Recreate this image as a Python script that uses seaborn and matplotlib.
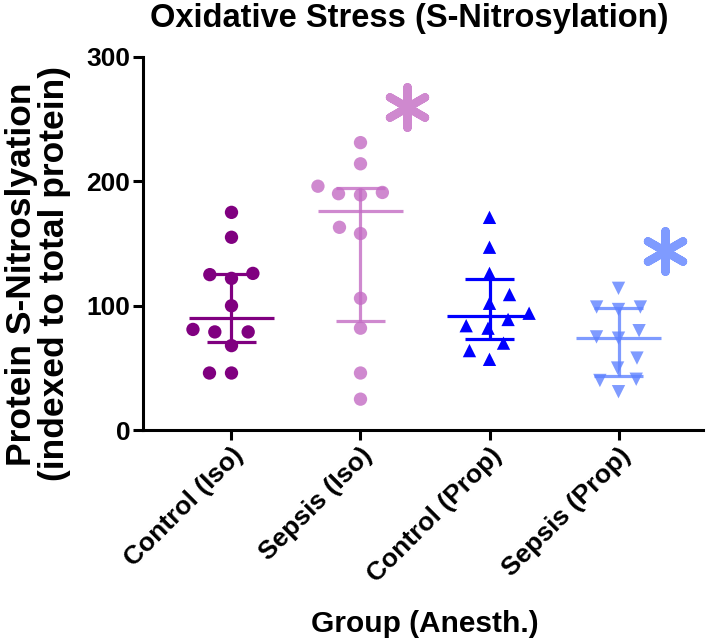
import numpy as np
import pandas as pd
import matplotlib
matplotlib.use("Agg")
import matplotlib.pyplot as plt
import seaborn as sns

# values
groups = ["Control (Iso)", "Sepsis (Iso)", "Control (Prop)", "Sepsis (Prop)"]
control_iso = [175, 155, 125, 126, 122, 100, 81, 79, 79, 68, 46, 46]
sepsis_iso = [231, 214, 196, 190, 189, 191, 158, 163, 106, 82, 46, 25]
control_prop = [171, 147, 126, 109, 102, 94, 89, 84, 82, 70, 64, 57]
sepsis_prop = [114, 99, 97, 99, 80, 75, 74, 58, 50, 41, 40, 31]

# significance stars (group index, y value)
sig_groups = [1, 3]
sig_values = [260, 144]

colors = ["#800080", "#c46cc4", "#0000ff", "#5f82ff"]
markers = ["o", "o", "^", "v"]
alphas = [1.0, 0.8, 1.0, 0.8]

df = pd.DataFrame({
    "group": np.repeat(groups, [len(control_iso), len(sepsis_iso), len(control_prop), len(sepsis_prop)]),
    "value": control_iso + sepsis_iso + control_prop + sepsis_prop,
})

sns.set_theme(style="ticks")
plt.rcParams["font.family"] = ["Liberation Sans", "DejaVu Sans"]
plt.rcParams["font.weight"] = "bold"
for k in ["text.color", "axes.labelcolor", "xtick.color", "ytick.color", "axes.edgecolor"]:
    plt.rcParams[k] = "black"

W, H = 706, 642
fig = plt.figure(figsize=(W / 100, H / 100), dpi=100)
ax = fig.add_axes([143 / W, 1 - 430.3 / H, 560 / W, (430.3 - 56.7) / H])

# invisible wide edge keeps the swarm points spaced apart like the original
for g, c, m, a in zip(groups, colors, markers, alphas):
    sns.swarmplot(data=df[df["group"] == g], x="group", y="value", order=groups,
                  color=c, marker=m, alpha=a, size=9.6, linewidth=5.5,
                  edgecolor="none", ax=ax)

# median with interquartile range
stats = df.groupby("group")["value"].apply(
    lambda v: np.percentile(v, [25, 50, 75], method="weibull"))
for i, (g, c, a) in enumerate(zip(groups, colors, alphas)):
    q1, med, q3 = stats[g]
    ax.hlines(med, i - 0.33, i + 0.33, color=c, lw=2.3, alpha=a, zorder=3)
    ax.hlines([q1, q3], i - 0.19, i + 0.19, color=c, lw=2.3, alpha=a, zorder=3)
    ax.vlines(i, q1, q3, color=c, lw=2.3, alpha=a, zorder=3)

for gi, yv in zip(sig_groups, sig_values):
    ax.scatter(gi + 0.36, yv, marker=(6, 2, 0), s=850, linewidths=6,
               color=colors[gi], alpha=alphas[gi], zorder=4)

ax.set_xlim(-0.686, 3.655)
ax.set_ylim(0, 300)
ax.set_yticks([0, 100, 200, 300])
ax.set_xlabel("")
ax.set_ylabel("")
sns.despine(ax=ax)
for s in ["left", "bottom"]:
    ax.spines[s].set_linewidth(2.2)
    ax.spines[s].set_color("black")
ax.tick_params(axis="both", length=7.2, width=2.2, color="black",
               labelsize=19, labelcolor="black", pad=2)
plt.setp(ax.get_xticklabels(), rotation=45, ha="right", rotation_mode="anchor",
         fontweight="bold", color="black")
plt.setp(ax.get_yticklabels(), fontweight="bold", color="black")

fig.text(409 / W, 1 - 27 / H, "Oxidative Stress (S-Nitrosylation)",
         ha="center", va="baseline", fontsize=23.5, fontweight="bold", color="black")
fig.text(38 / W, 1 - 274 / H, "Protein S-Nitroslyation\n(indexed to total protein)",
         ha="center", va="center", rotation=90, fontsize=25.5, fontweight="bold",
         linespacing=1.02, color="black")
fig.text(425 / W, 1 - 632 / H, "Group (Anesth.)",
         ha="center", va="baseline", fontsize=21.5, fontweight="bold", color="black")

fig.savefig("out.png", dpi=100)
